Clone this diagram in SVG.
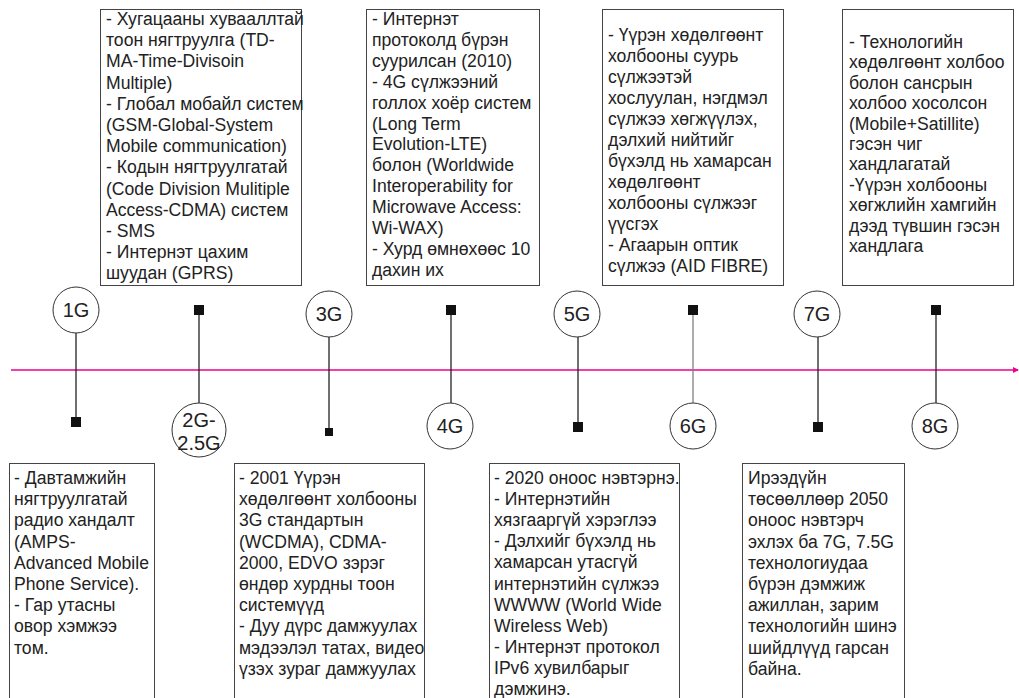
<svg xmlns="http://www.w3.org/2000/svg" width="1019" height="698" viewBox="0 0 1019 698">
<defs>
<style>
.bg{fill:#ffffff}
.box{fill:#ffffff;stroke:#444444;stroke-width:1}
.txt{font-family:"Liberation Sans",Arial,sans-serif;font-size:17.6px;fill:#222222}
.lbl{font-family:"Liberation Sans",Arial,sans-serif;font-size:20px;fill:#222222;text-anchor:middle}
.circ{fill:#ffffff;stroke:#333333;stroke-width:1}
.sq{fill:#111111}
.stem{stroke:#222222;stroke-width:1.3;fill:none}
.stem-gray{stroke:#808080;stroke-width:1.3;fill:none}
.time{stroke:#ec008c;stroke-width:1.5;fill:none}
</style>
<marker id="arr" markerWidth="6" markerHeight="6" refX="5" refY="3" orient="auto" markerUnits="userSpaceOnUse">
<path d="M0,0 L6,3 L0,6 Z" fill="#ec008c"/>
</marker>
</defs>
<rect class="bg" x="0" y="0" width="1019" height="698"/>

<g id="connectors">
<line class="time" x1="11" y1="370" x2="1018" y2="370" marker-end="url(#arr)"/>
<line class="stem" x1="76" y1="333" x2="76" y2="420"/>
<line class="stem" x1="199" y1="312" x2="199" y2="403"/>
<line class="stem" x1="329" y1="337" x2="329" y2="430"/>
<line class="stem" x1="451" y1="312" x2="451" y2="403"/>
<line class="stem" x1="578" y1="337" x2="578" y2="425"/>
<line class="stem-gray" x1="693" y1="312" x2="693" y2="403"/>
<line class="stem" x1="818" y1="337" x2="818" y2="425"/>
<line class="stem" x1="936" y1="312" x2="936" y2="403"/>
</g>

<g id="node-1G">
<circle class="circ" cx="76" cy="310" r="23"/>
<text class="lbl" x="76" y="317">1G</text>
<rect class="sq" x="71" y="417" width="10" height="10"/>
<rect class="box" x="9.5" y="463.5" width="145" height="260"/>
<text class="txt" x="14" y="484"><tspan x="14">- Давтамжийн</tspan><tspan x="14" dy="21.2">нягтруулгатай</tspan><tspan x="14" dy="21.2">радио хандалт</tspan><tspan x="14" dy="21.2">(AMPS-</tspan><tspan x="14" dy="21.2">Advanced Mobile</tspan><tspan x="14" dy="21.2">Phone Service).</tspan><tspan x="14" dy="21.2">- Гар утасны</tspan><tspan x="14" dy="21.2">овор хэмжээ</tspan><tspan x="14" dy="21.2">том.</tspan></text>
</g>

<g id="node-2G">
<rect class="sq" x="194" y="305" width="10" height="10"/>
<circle class="circ" cx="199" cy="430" r="27"/>
<text class="lbl" x="199" y="427">2G-</text>
<text class="lbl" x="199" y="450">2.5G</text>
<rect class="box" x="100.5" y="9.5" width="201" height="276"/>
<text class="txt" x="106" y="25"><tspan x="106">- Хугацааны хувааллтай</tspan><tspan x="106" dy="21.2">тоон нягтруулга (TD-</tspan><tspan x="106" dy="21.2">MA-Time-Divisoin</tspan><tspan x="106" dy="21.2">Multiple)</tspan><tspan x="106" dy="21.2">- Глобал мобайл систем</tspan><tspan x="106" dy="21.2">(GSM-Global-System</tspan><tspan x="106" dy="21.2">Mobile communication)</tspan><tspan x="106" dy="21.2">- Кодын нягтруулгатай</tspan><tspan x="106" dy="21.2">(Code Division Mulitiple</tspan><tspan x="106" dy="21.2">Access-CDMA) систем</tspan><tspan x="106" dy="21.2">- SMS</tspan><tspan x="106" dy="21.2">- Интернэт цахим</tspan><tspan x="106" dy="21.2">шуудан (GPRS)</tspan></text>
</g>

<g id="node-3G">
<circle class="circ" cx="329" cy="314" r="23"/>
<text class="lbl" x="329" y="321">3G</text>
<rect class="sq" x="325" y="428" width="8" height="8"/>
<rect class="box" x="234.5" y="463.5" width="190" height="260"/>
<text class="txt" x="239" y="484"><tspan x="239">- 2001 Үүрэн</tspan><tspan x="239" dy="21.2">хөдөлгөөнт холбооны</tspan><tspan x="239" dy="21.2">3G стандартын</tspan><tspan x="239" dy="21.2">(WCDMA), CDMA-</tspan><tspan x="239" dy="21.2">2000, EDVO зэрэг</tspan><tspan x="239" dy="21.2">өндөр хурдны тоон</tspan><tspan x="239" dy="21.2">системүүд</tspan><tspan x="239" dy="21.2">- Дуу дүрс дамжуулах</tspan><tspan x="239" dy="21.2">мэдээлэл татах, видео</tspan><tspan x="239" dy="21.2">үзэх зураг дамжуулах</tspan></text>
</g>

<g id="node-4G">
<rect class="sq" x="446" y="305" width="10" height="10"/>
<circle class="circ" cx="450" cy="426" r="23"/>
<text class="lbl" x="450" y="433">4G</text>
<rect class="box" x="366.5" y="9.5" width="173" height="276"/>
<text class="txt" x="372" y="25"><tspan x="372">- Интернэт</tspan><tspan x="372" dy="20.9">протоколд бүрэн</tspan><tspan x="372" dy="20.9">суурилсан (2010)</tspan><tspan x="372" dy="20.9">- 4G сүлжээний</tspan><tspan x="372" dy="20.9">голлох хоёр систем</tspan><tspan x="372" dy="20.9">(Long Term</tspan><tspan x="372" dy="20.9">Evolution-LTE)</tspan><tspan x="372" dy="20.9">болон (Worldwide</tspan><tspan x="372" dy="20.9">Interoperability for</tspan><tspan x="372" dy="20.9">Microwave Access:</tspan><tspan x="372" dy="20.9">Wi-WAX)</tspan><tspan x="372" dy="20.9">- Хурд өмнөхөөс 10</tspan><tspan x="372" dy="20.9">дахин их</tspan></text>
</g>

<g id="node-5G">
<circle class="circ" cx="577" cy="314" r="23"/>
<text class="lbl" x="577" y="321">5G</text>
<rect class="sq" x="573" y="422" width="10" height="10"/>
<rect class="box" x="489.5" y="463.5" width="190" height="260"/>
<text class="txt" x="494" y="484"><tspan x="494">- 2020 оноос нэвтэрнэ.</tspan><tspan x="494" dy="21.1">- Интернэтийн</tspan><tspan x="494" dy="21.1">хязгааргүй хэрэглээ</tspan><tspan x="494" dy="21.1">- Дэлхийг бүхэлд нь</tspan><tspan x="494" dy="21.1">хамарсан утасгүй</tspan><tspan x="494" dy="21.1">интернэтийн сүлжээ</tspan><tspan x="494" dy="21.1">WWWW (World Wide</tspan><tspan x="494" dy="21.1">Wireless Web)</tspan><tspan x="494" dy="21.1">- Интернэт протокол</tspan><tspan x="494" dy="21.1">IPv6 хувилбарыг</tspan><tspan x="494" dy="21.1">дэмжинэ.</tspan></text>
</g>

<g id="node-6G">
<rect class="sq" x="688" y="305" width="10" height="10"/>
<circle class="circ" cx="693" cy="426" r="23"/>
<text class="lbl" x="693" y="433">6G</text>
<rect class="box" x="602.5" y="9.5" width="181" height="276"/>
<text class="txt" x="608" y="41"><tspan x="608">- Үүрэн хөдөлгөөнт</tspan><tspan x="608" dy="21">холбооны суурь</tspan><tspan x="608" dy="21">сүлжээтэй</tspan><tspan x="608" dy="21">хослуулан, нэгдмэл</tspan><tspan x="608" dy="21">сүлжээ хөгжүүлэх,</tspan><tspan x="608" dy="21">дэлхий нийтийг</tspan><tspan x="608" dy="21">бүхэлд нь хамарсан</tspan><tspan x="608" dy="21">хөдөлгөөнт</tspan><tspan x="608" dy="21">холбооны сүлжээг</tspan><tspan x="608" dy="21">үүсгэх</tspan><tspan x="608" dy="21">- Агаарын оптик</tspan><tspan x="608" dy="21">сүлжээ (AID FIBRE)</tspan></text>
</g>

<g id="node-7G">
<circle class="circ" cx="817" cy="314" r="23"/>
<text class="lbl" x="817" y="321">7G</text>
<rect class="sq" x="813" y="422" width="10" height="10"/>
<rect class="box" x="742.5" y="463.5" width="162" height="260"/>
<text class="txt" x="748" y="484"><tspan x="748">Ирээдүйн</tspan><tspan x="748" dy="21.2">төсөөллөөр 2050</tspan><tspan x="748" dy="21.2">оноос нэвтэрч</tspan><tspan x="748" dy="21.2">эхлэх ба 7G, 7.5G</tspan><tspan x="748" dy="21.2">технологиудаа</tspan><tspan x="748" dy="21.2">бүрэн дэмжиж</tspan><tspan x="748" dy="21.2">ажиллан, зарим</tspan><tspan x="748" dy="21.2">технологийн шинэ</tspan><tspan x="748" dy="21.2">шийдлүүд гарсан</tspan><tspan x="748" dy="21.2">байна.</tspan></text>
</g>

<g id="node-8G">
<rect class="sq" x="931" y="305" width="10" height="10"/>
<circle class="circ" cx="935" cy="426" r="23"/>
<text class="lbl" x="935" y="433">8G</text>
<rect class="box" x="842.5" y="9.5" width="171" height="276"/>
<text class="txt" x="849" y="48"><tspan x="849">- Технологийн</tspan><tspan x="849" dy="20.4">хөдөлгөөнт холбоо</tspan><tspan x="849" dy="20.4">болон сансрын</tspan><tspan x="849" dy="20.4">холбоо хосолсон</tspan><tspan x="849" dy="20.4">(Mobile+Satillite)</tspan><tspan x="849" dy="20.4">гэсэн чиг</tspan><tspan x="849" dy="20.4">хандлагатай</tspan><tspan x="849" dy="20.4">-Үүрэн холбооны</tspan><tspan x="849" dy="20.4">хөгжлийн хамгийн</tspan><tspan x="849" dy="20.4">дээд түвшин гэсэн</tspan><tspan x="849" dy="20.4">хандлага</tspan></text>
</g>
</svg>
